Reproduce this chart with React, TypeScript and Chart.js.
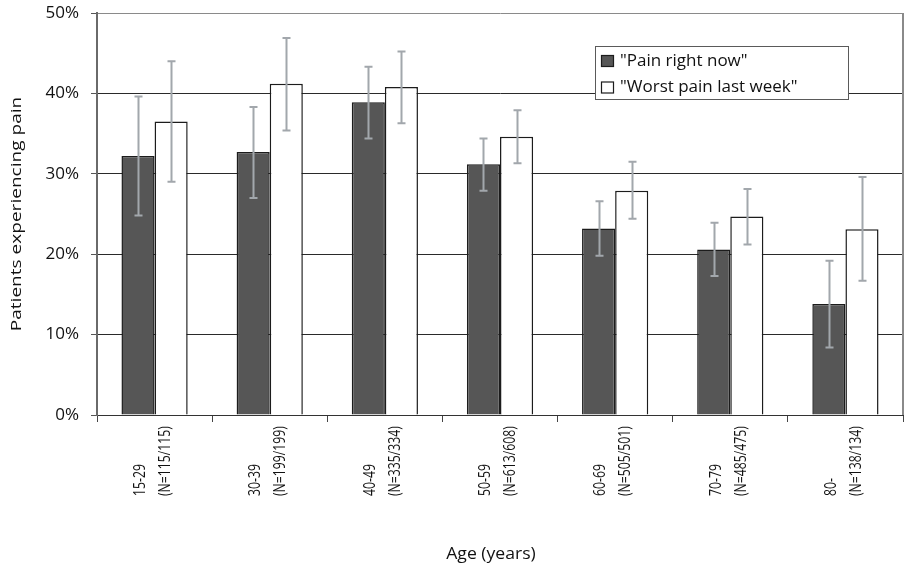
import React, { useEffect, useRef } from 'react';
import { Chart, registerables } from 'chart.js';

Chart.register(...registerables);

const categories = ['15-29', '30-39', '40-49', '50-59', '60-69', '70-79', '80-'];
const sampleSizes = ['(N=115/115)', '(N=199/199)', '(N=335/334)', '(N=613/608)', '(N=505/501)', '(N=485/475)', '(N=138/134)'];

const painNow = [32.2, 32.7, 38.9, 31.2, 23.2, 20.6, 13.8];
const painNowLow = [24.8, 27.0, 34.4, 27.9, 19.8, 17.3, 8.4];
const painNowHigh = [39.6, 38.3, 43.3, 34.4, 26.6, 23.9, 19.2];

const painWeek = [36.5, 41.2, 40.8, 34.6, 27.9, 24.7, 23.1];
const painWeekLow = [29.0, 35.4, 36.3, 31.3, 24.4, 21.2, 16.7];
const painWeekHigh = [44.0, 46.9, 45.2, 37.9, 31.5, 28.1, 29.6];

const seriesLabels = ['"Pain right now"', '"Worst pain last week"'];
const yMin = 0;
const yMax = 50;
const yStep = 10;
const xTitle = 'Age (years)';
const yTitle = 'Patients experiencing pain';

const FONT = '"Open Sans", "Noto Sans", sans-serif';
const DARK = '#565656';
const EDGE = '#1c1c1c';
const ERR = '#a2a7ac';

function drawScaledText(
  ctx: CanvasRenderingContext2D,
  text: string,
  x: number,
  y: number,
  angle: number,
  stretch: number,
  align: CanvasTextAlign,
) {
  ctx.save();
  ctx.translate(x, y);
  ctx.rotate(angle);
  ctx.scale(stretch, 1);
  ctx.textAlign = align;
  ctx.textBaseline = 'middle';
  ctx.fillText(text, 0, 0);
  ctx.restore();
}

const errorBarPlugin = {
  id: 'errorBars',
  afterDatasetsDraw(chart: any) {
    const ctx = chart.ctx as CanvasRenderingContext2D;
    const ys = chart.scales.y;
    const ranges = [
      [painNowLow, painNowHigh],
      [painWeekLow, painWeekHigh],
    ];
    ctx.save();
    ctx.strokeStyle = ERR;
    ctx.lineWidth = 2;
    ranges.forEach((rg, d) => {
      const meta = chart.getDatasetMeta(d);
      meta.data.forEach((bar: any, i: number) => {
        const x = Math.round(bar.x) + 0.5;
        const yl = ys.getPixelForValue(rg[0][i]);
        const yh = ys.getPixelForValue(rg[1][i]);
        ctx.beginPath();
        ctx.moveTo(x, yl);
        ctx.lineTo(x, yh);
        ctx.moveTo(x - 4, yl);
        ctx.lineTo(x + 4, yl);
        ctx.moveTo(x - 4, yh);
        ctx.lineTo(x + 4, yh);
        ctx.stroke();
      });
    });
    ctx.restore();
  },
};

const decorPlugin = {
  id: 'decor',
  afterDraw(chart: any) {
    const ctx = chart.ctx as CanvasRenderingContext2D;
    const area = chart.chartArea;
    const xs = chart.scales.x;

    // right border
    ctx.save();
    ctx.strokeStyle = '#8a8a8a';
    ctx.lineWidth = 2;
    ctx.beginPath();
    ctx.moveTo(area.right, area.top);
    ctx.lineTo(area.right, area.bottom);
    ctx.stroke();
    ctx.restore();

    // category labels (two rotated lines)
    ctx.save();
    ctx.fillStyle = '#111';
    ctx.font = `17px ${FONT}`;
    categories.forEach((c, i) => {
      const xc = xs.getPixelForValue(i);
      const yStart = area.bottom + 81;
      drawScaledText(ctx, c, xc - 14.5, yStart, -Math.PI / 2, 0.72, 'left');
      drawScaledText(ctx, sampleSizes[i], xc + 10.5, yStart, -Math.PI / 2, 0.72, 'left');
    });
    ctx.restore();

    // axis titles
    ctx.save();
    ctx.fillStyle = '#111';
    ctx.font = `16px ${FONT}`;
    drawScaledText(ctx, xTitle, (area.left + area.right) / 2 - 9, area.bottom + 139, 0, 1.1, 'center');
    ctx.font = `15px ${FONT}`;
    drawScaledText(ctx, yTitle, 17, (area.top + area.bottom) / 2, -Math.PI / 2, 1.27, 'center');
    ctx.restore();

    // legend box
    const lx = area.right - 308;
    const ly = area.top + 33;
    const lw = 253;
    const lh = 53;
    ctx.save();
    ctx.fillStyle = '#ffffff';
    ctx.fillRect(lx, ly, lw, lh);
    ctx.strokeStyle = '#5a5a5a';
    ctx.lineWidth = 1;
    ctx.strokeRect(lx + 0.5, ly + 0.5, lw, lh);
    const fills = [DARK, '#ffffff'];
    ctx.font = `17px ${FONT}`;
    ctx.textBaseline = 'middle';
    ctx.textAlign = 'left';
    seriesLabels.forEach((s, k) => {
      const cy = ly + 15 + k * 26.5;
      ctx.fillStyle = fills[k];
      ctx.fillRect(lx + 6.5, cy - 5.5, 12, 11);
      ctx.strokeStyle = EDGE;
      ctx.lineWidth = 1.2;
      ctx.strokeRect(lx + 6.5, cy - 5.5, 12, 11);
      ctx.fillStyle = '#111';
      ctx.fillText(s, lx + 25, cy);
    });
    ctx.restore();
  },
};

export default function App() {
  const ref = useRef<HTMLCanvasElement | null>(null);

  useEffect(() => {
    if (!ref.current) return;
    const chart = new Chart(ref.current, {
      type: 'bar',
      data: {
        labels: categories,
        datasets: [
          {
            label: seriesLabels[0],
            data: painNow,
            backgroundColor: DARK,
            borderColor: EDGE,
            borderWidth: 1.5,
            categoryPercentage: 0.575,
            barPercentage: 1,
          },
          {
            label: seriesLabels[1],
            data: painWeek,
            backgroundColor: '#ffffff',
            borderColor: EDGE,
            borderWidth: 1.5,
            categoryPercentage: 0.575,
            barPercentage: 1,
          },
        ],
      },
      options: {
        responsive: false,
        animation: false,
        devicePixelRatio: 1,
        layout: { padding: { left: 0, right: 6, top: 13, bottom: 0 } },
        plugins: {
          legend: { display: false },
          tooltip: { enabled: false },
        },
        scales: {
          x: {
            type: 'category',
            offset: true,
            grid: {
              display: true,
              offset: true,
              drawOnChartArea: false,
              drawTicks: true,
              tickLength: 7,
              color: '#444',
            },
            border: { display: true, color: '#333', width: 1 },
            ticks: { display: false },
            afterFit: (s: any) => {
              s.height = 150;
              s.paddingLeft = 0;
              s.paddingRight = 0;
            },
          },
          y: {
            min: yMin,
            max: yMax,
            ticks: {
              stepSize: yStep,
              callback: (v: any) => `${v}%`,
              font: { size: 17, family: FONT },
              color: '#111',
              padding: 12,
            },
            grid: {
              color: (c: any) => (c.tick && c.tick.value === yMax ? '#8a8a8a' : '#2a2a2a'),
              tickColor: '#555',
              tickLength: 6,
              drawTicks: true,
            },
            border: { display: true, color: '#6a6a6a', width: 2 },
            afterFit: (s: any) => {
              s.width = 97;
              s.paddingTop = 0;
              s.paddingBottom = 0;
            },
          },
        },
      },
      plugins: [errorBarPlugin, decorPlugin],
    } as any);
    return () => chart.destroy();
  }, []);

  return (
    <div style={{ position: 'absolute', left: 0, top: 0, width: 909, height: 565, background: '#fff' }}>
      <canvas ref={ref} width={909} height={565} />
    </div>
  );
}
